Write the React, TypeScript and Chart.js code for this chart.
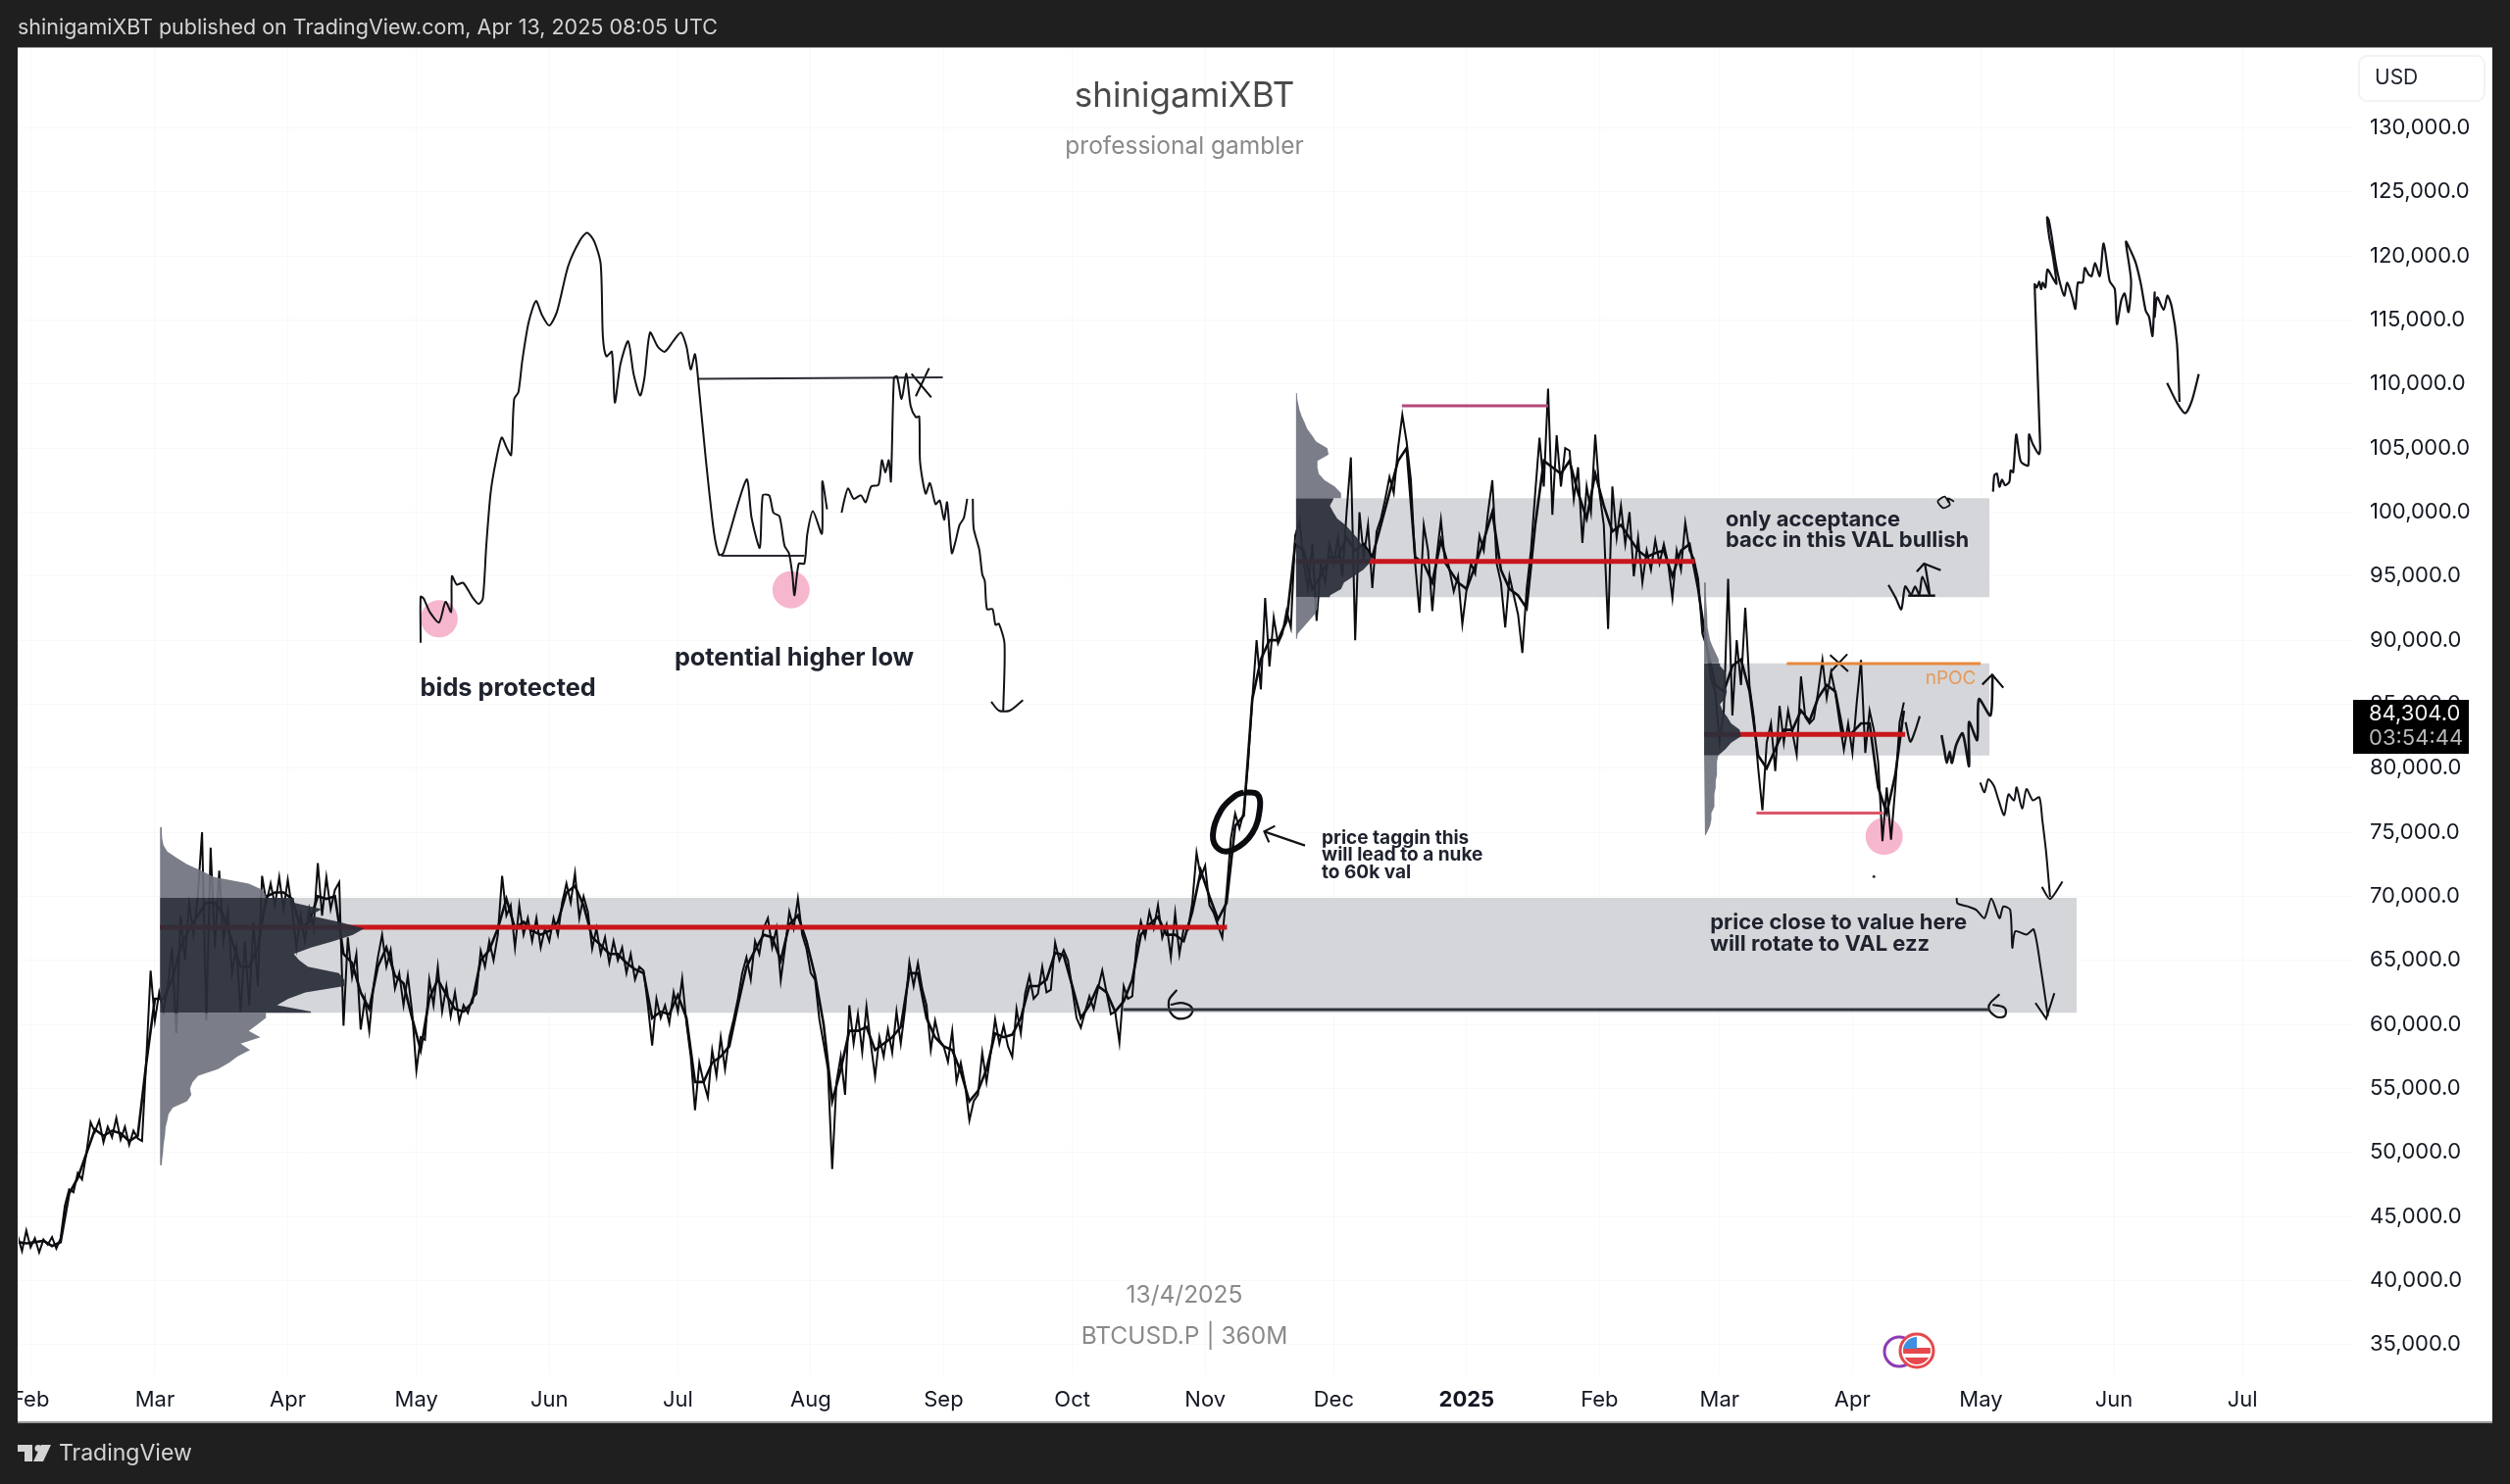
import { useEffect, useRef } from "react";
import { Chart, registerables } from "chart.js";

Chart.register(...registerables);

type Pt = number[];

const UI_FONT = "Inter, 'Noto Sans', sans-serif";

// time axis: days since 1 Feb 2024
const monthLabels = ["Feb", "Mar", "Apr", "May", "Jun", "Jul", "Aug", "Sep", "Oct", "Nov", "Dec", "2025", "Feb", "Mar", "Apr", "May", "Jun", "Jul"];
const monthDays = [0, 29, 60, 90, 121, 151, 182, 213, 243, 274, 304, 335, 366, 394, 425, 455, 486, 516];
const priceTicks = [35000, 40000, 45000, 50000, 55000, 60000, 65000, 70000, 75000, 80000, 85000, 90000, 95000, 100000, 105000, 110000, 115000, 120000, 125000, 130000];

// price extremes, one value a day, first value is day -3
const priceStart = -3;
const priceValues = [
  43500, 42300, 43900, 42600, 43300, 42200, 43200, 42800, 43400, 42500,
  43300, 45850, 47130, 46900, 48400, 47900, 49900, 52360, 51600, 52500,
  50800, 52000, 51200, 52700, 51000, 52000, 50600, 51700, 51100, 50900,
  57330, 64200, 60300, 62500, 61000, 63000, 66000, 59300, 68500, 65000,
  69500, 67000, 70000, 75000, 60300, 73800, 66000, 72000, 66500, 68800,
  64000, 66000, 61000, 66500, 61500, 68000, 63000, 71600, 69500, 71000,
  69300, 71500, 69000, 71300, 69000, 66000, 68500, 66500, 69000, 67500,
  72600, 68500, 71500, 69000, 70500, 71100, 59900, 66800, 63700, 65500,
  59600, 62000, 59500, 63000, 65200, 67000, 64500, 65800, 62800, 64000,
  61500, 63800, 61000, 56400, 59000, 58800, 63500, 61500, 64500, 61000,
  63000, 60650, 62500, 60200, 61500, 60900, 62000, 62400, 65750, 64500,
  66500, 65000, 67000, 71600, 68500, 69300, 66000, 69300, 67000, 68300,
  66500, 68300, 66000, 67500, 66500, 68300, 67000, 69500, 71000, 69500,
  71800, 68300, 70000, 68800, 65900, 67500, 65500, 66800, 64800, 66500,
  65000, 66000, 64000, 65500, 63500, 64500, 64200, 61500, 58350, 62000,
  60500, 61500, 60100, 62500, 61000, 63580, 60100, 57500, 53300, 57000,
  55500, 54300, 58000, 56000, 59000, 56500, 59000, 60400, 62000, 64000,
  65240, 63500, 66500, 65500, 67500, 68300, 66000, 67500, 63450, 66000,
  68800, 67500, 69830, 67000, 65900, 64000, 63500, 60400, 58500, 56500,
  48700, 55500, 57500, 54500, 61500, 58500, 60800, 57840, 61400, 58500,
  55930, 59000, 57500, 59630, 57800, 61000, 58500, 61200, 64860, 63000,
  64800, 62800, 61500, 58000, 60300, 58800, 58300, 57080, 59500, 55550,
  57000, 55300, 52500, 54000, 54500, 57800, 55500, 57800, 60400, 58500,
  59900, 58300, 57460, 61200, 59300, 62400, 63800, 62000, 62400, 64500,
  62500, 62700, 66390, 65000, 65800, 65000, 62800, 60500, 59750, 61000,
  62200, 61200, 62800, 64220, 62500, 60800, 61000, 58600, 63000, 62000,
  62200, 66260, 68050, 66800, 68800, 67500, 69320, 66770, 67800, 65240,
  68700, 65500, 67500, 67400, 69500, 73400, 71500, 72400, 69300, 68700,
  67700, 66770, 70340, 74500, 76470, 75300, 76600, 80300, 85400, 90000,
  86160, 93300, 87950, 91770, 89740, 90500, 92280, 91000, 98150, 99300,
  96000, 94000, 97500, 91500, 96000, 94500, 97500, 96000, 98000, 95000,
  100000, 104270, 90000, 100000, 96500, 99000, 94070, 98500, 99500, 101000,
  102740, 101500, 105000, 107590, 105500, 102500, 96000, 92150, 99000, 97000,
  92280, 96500, 99400, 96000, 95500, 93800, 95000, 91260, 94000, 96000,
  95200, 98150, 97000, 100000, 102490, 96000, 94500, 91000, 95000, 93500,
  92000, 89000, 94000, 97000, 101500, 105800, 102000, 109630, 99800, 106000,
  102000, 105000, 104800, 101000, 103500, 97600, 102000, 100000, 106050, 101500,
  99000, 90880, 102000, 98000, 100500, 97500, 100000, 95000, 98000, 94500,
  97000, 95500, 97800, 96000, 97500, 96000, 93300, 97000, 95500, 99170,
  97000, 96360, 94800, 90500, 89500, 87000, 86000, 82000, 84500, 94800,
  84120, 90000, 86500, 92540, 86400, 84000, 80040, 76720, 82000, 83500,
  79780, 84880, 82000, 84500, 82800, 81060, 87180, 84000, 83500, 83860,
  86000, 88460, 85500, 87500, 85900, 83600, 81440, 83500, 81200, 85140,
  88460, 81200, 84500, 83000, 80500, 74300, 78500, 74430, 78500, 83600,
  85140,
];

// where the candles sit, one value every two days, first value is day -3
const bodyStep = 2;
const bodyValues = [
  43000, 42900, 43000, 43100, 42700, 43000, 46800, 48000, 49900, 51800,
  51300, 51700, 51500, 50900, 51300, 57000, 62000, 62000, 63500, 66000,
  67500, 68500, 69500, 69500, 68500, 66500, 64500, 64500, 66000, 70000,
  70300, 70300, 69800, 67500, 68000, 70000, 69800, 70000, 65500, 64800,
  62500, 61200, 64500, 66000, 63800, 63200, 60500, 58000, 62000, 63500,
  62300, 61200, 61000, 61700, 65000, 65800, 67500, 69800, 67500, 68000,
  67300, 67000, 67300, 68000, 70300, 70800, 69300, 66800, 66200, 65500,
  65500, 64800, 64300, 64000, 60500, 61000, 60800, 62300, 60500, 55500,
  55500, 57000, 57500, 58300, 61500, 64500, 65800, 67000, 66800, 65000,
  67800, 68500, 66500, 63800, 60000, 54000, 56500, 59500, 59500, 59800,
  58000, 58500, 59000, 59800, 64000, 64000, 60500, 59000, 58300, 58000,
  56300, 54000, 54800, 56500, 59300, 59000, 59200, 60500, 63000, 63000,
  63500, 65600, 65400, 63000, 60500, 61500, 63000, 62500, 61000, 61800,
  63500, 67000, 67800, 68400, 67000, 67000, 66500, 68800, 72000, 70000,
  68200, 69500, 75500, 76300, 85400, 88500, 90000, 90000, 91500, 97500,
  97000, 94000, 95000, 96500, 96500, 98000, 97000, 97500, 96500, 99000,
  101500, 104000, 105000, 96500, 96000, 94500, 97800, 95500, 94500, 94000,
  95800, 97800, 100000, 95500, 94000, 93500, 92500, 99000, 104000, 103500,
  103000, 104000, 101500, 99500, 103000, 100500, 98500, 99000, 98000, 97000,
  96500, 96800, 97000, 95000, 97000, 97500, 94000, 89500, 86500, 86000,
  88000, 88500, 86000, 81000, 80000, 81500, 83000, 83000, 84500, 83700,
  85500, 86500, 86000, 82500, 82800, 83500, 83500, 78500, 76500, 79500,
  84500,
];

// value areas and their points of control
const bandStart = [30.2, 295.2, 390.4];
const bandEnd = [477.3, 457, 457];
const bandHigh = [69886, 101085, 88200];
const bandLow = [60900, 93355, 81000];
const pocPrice = [67590, 96160, 82640];
const pocEnd = [279.1, 388.2, 437.3];

// volume profiles: row price and width in days
const profile1Prices = [75400, 75000, 74500, 74000, 73500, 73000, 72500, 72000, 71500, 71000, 70500, 70000, 69500, 69000, 68500, 68000, 67500, 67000, 66500, 66000, 65500, 65000, 64500, 64000, 63500, 63000, 62500, 62000, 61500, 61000, 60500, 60000, 59500, 59000, 58500, 58000, 57500, 57000, 56500, 56000, 55500, 55000, 54500, 54000, 53500, 53000, 52500, 52000, 51500, 51000, 50500, 50000, 49500, 49000];
const profile1Widths = [0.4, 0.4, 0.5, 0.8, 1.7, 3.9, 6.3, 9.6, 12.6, 20.7, 24, 24.7, 31.2, 37.8, 34.9, 41.7, 47.6, 45, 40.4, 35.2, 31.2, 32.5, 34.5, 41.7, 43, 43, 33.9, 29.9, 27.3, 35.2, 24.7, 22.7, 20.7, 23.4, 18.8, 21, 18.1, 16.1, 13.5, 8.9, 7.6, 7, 7.3, 6.3, 3, 2, 1.7, 1.3, 1.2, 1, 0.8, 0.7, 0.5, 0.4];
const profile2Prices = [109300, 108800, 108500, 108000, 107500, 107000, 106500, 106000, 105500, 105000, 104500, 104000, 103500, 103000, 102500, 102000, 101500, 101000, 100500, 100000, 99500, 99000, 98500, 98000, 97500, 97000, 96500, 96000, 95500, 95000, 94500, 94000, 93500, 93000, 92500, 92000, 91500, 91000, 90500, 90100];
const profile2Widths = [0.2, 0.3, 0.5, 0.8, 1.3, 2, 2.6, 3.7, 4.7, 7.3, 7.6, 5, 5, 5.3, 6.6, 9, 10.5, 8.7, 7.9, 8.7, 9.6, 11.5, 12.9, 14.2, 15.2, 16.5, 17.5, 17.1, 15.7, 13.5, 11.2, 10.5, 7.9, 5, 5, 4.3, 3, 1.7, 0.4, 0.2];
const profile3Prices = [94500, 94000, 93000, 92000, 91000, 90000, 89500, 89000, 88500, 88000, 87500, 87000, 86500, 86000, 85500, 85000, 84500, 84000, 83500, 83000, 82500, 82000, 81500, 81000, 80500, 80000, 79500, 79000, 78500, 78000, 77500, 77000, 76500, 76000, 75500, 75000, 74700];
const profile3Widths = [0.4, 0.4, 0.5, 0.7, 0.8, 1.4, 2, 2.7, 3.4, 3.7, 5, 5.1, 5, 5.3, 5, 3.7, 4.3, 5.4, 6.3, 8.3, 8.6, 6.3, 5, 3.3, 3, 3, 3, 2.7, 2.7, 2.4, 2.4, 2.4, 1.7, 1.7, 1.4, 0.7, 0.2];

// hand drawn strokes, [day, price]
const leftPathA: Pt[] = [[91, 89800], [91, 93400], [91.7, 93250], [93.2, 92160], [95.3, 91400], [96.8, 93000], [98.1, 92200], [98.3, 95000], [99.4, 94340], [100.9, 94480], [103, 93390], [104.5, 92840], [105.5, 93250], [106.3, 97350], [107.3, 101450], [108.5, 103910], [109.9, 105820], [111.1, 105000], [112.1, 104450], [112.8, 108830], [113.8, 109380], [114.7, 111830], [116.2, 114840], [117.9, 116480], [119.3, 115390], [121, 114570], [122.8, 115660], [125.4, 119210], [128, 121130], [129.8, 121810], [131.5, 121130], [133, 119350], [133.5, 113750], [134.3, 112170], [135.6, 112520], [136.3, 108560], [137.6, 111560], [139.4, 113340], [140.7, 110740], [142.2, 109100], [143.2, 110470], [144.5, 114020], [146.3, 112930], [147.9, 112520], [149.9, 113340], [151.7, 114020], [153, 112930], [154, 111150], [155, 112330], [156, 109380], [157.5, 104180], [159.4, 98450], [160.6, 96670], [161.6, 96800], [167, 102540], [168.2, 99540], [170.1, 97220], [170.8, 101310], [172.3, 101310], [173.3, 99950], [174.7, 99670], [175.9, 97350], [176.9, 96800], [177.7, 95160], [178.2, 93520], [179.2, 95980], [180.5, 95980], [181.2, 98310], [182.5, 100080], [184.6, 98310], [184.7, 102400], [185.8, 100220]];
const leftPathB: Pt[] = [[189.2, 99950], [189.7, 100770], [190.7, 101860], [192, 101040], [193.7, 101310], [194.8, 100770], [196.1, 102000], [197.8, 102130], [198.6, 104050], [199.4, 103090], [200.2, 104050], [200.7, 102400], [201.4, 110470], [202.1, 110610], [203.2, 108830], [204.3, 110800], [205.3, 108280], [206.5, 107410], [207.3, 107460], [207.5, 103910], [208.8, 101450], [209.8, 102270], [211.1, 100630], [212.1, 100900], [213.1, 99400], [213.8, 100770], [214.9, 96800], [215.7, 97620], [216.7, 98990], [217.7, 99540], [218.5, 101040]];
const leftPathC: Pt[] = [[219.8, 101040], [220, 98720], [221.3, 97080], [222, 95160], [222.6, 94620], [223.1, 92430], [224.4, 92430], [225.1, 91200], [225.9, 91280], [227.2, 89700], [226.9, 84500]];
const leftArrow: Pt[] = [[224.1, 85190], [225.9, 84500], [228.4, 84500], [231.5, 85330]];
const leftTopLine: Pt[] = [[155.5, 110410], [212.8, 110520]];
const leftLowLine: Pt[] = [[161.1, 96590], [180.5, 96590]];
const leftCrossA: Pt[] = [[205.5, 110800], [210.1, 108970]];
const leftCrossB: Pt[] = [[209.6, 111240], [206.5, 109050]];

const topRightPath: Pt[] = [[457.8, 101600], [458.1, 102870], [458.7, 103000], [459.3, 101980], [459.9, 102540], [460.6, 102100], [461.6, 102360], [461.9, 103250], [462.5, 103120], [463.2, 106060], [463.9, 104530], [464.4, 103890], [466, 103640], [466.2, 106060], [467.1, 105290], [468.5, 104530], [468.8, 105040], [467.5, 117790], [468, 117540], [468.6, 117990], [469, 117410], [469.4, 117920], [470, 117540], [470.5, 118940], [471.7, 118300], [472.6, 117840], [471.7, 120090], [470.9, 121490], [470.4, 123020], [470.8, 122800], [471.5, 121490], [472.3, 119700], [473.2, 118180], [474.4, 116900], [475.1, 117920], [476.3, 116770], [477, 115880], [477.6, 117920], [478.7, 117920], [479.2, 119070], [480.1, 118560], [480.8, 118430], [481.6, 119450], [482.7, 118430], [483.6, 120980], [485, 118050], [486.2, 117410], [486.7, 114680], [487.7, 116520], [488.5, 117080], [489.4, 115620], [490, 118050], [488.8, 121110], [490, 120340], [491.1, 119450], [492.3, 117790], [493.4, 115750], [494.2, 115240], [495, 113760], [495.5, 117150], [495.5, 115240], [496.1, 116770], [497.6, 115800], [498.5, 116900], [499.5, 116010], [500.7, 113200], [501.3, 108610]];
const topRightArrow: Pt[] = [[498.4, 110090], [500.6, 108610], [502.6, 107720], [504.1, 108610], [505.8, 110780]];
const smallLoop: Pt[] = [[447.5, 100750], [446.5, 101210], [444.9, 100830], [446.2, 100320], [447.7, 100570], [447.3, 101080], [448.7, 100830]];

const valSquiggle: Pt[] = [[433.4, 94320], [435.1, 93300], [436.4, 92410], [437.3, 94200], [438.7, 93560], [439.6, 94200], [440.6, 93560], [441.3, 94960], [443, 93560], [441.9, 95980]];
const valHead: Pt[] = [[440, 95350], [441.7, 95980], [445.6, 95470]];
const valBase: Pt[] = [[438, 93480], [444.3, 93480]];

const afterPriceA: Pt[] = [[437.4, 83610], [438.5, 82080], [439.6, 82900], [440.7, 84070]];
const afterPriceB: Pt[] = [[445.8, 82590], [446.5, 81310], [447, 80420], [447.7, 81310], [448.2, 80420], [449.2, 81820], [450.7, 82720], [452.2, 80160], [452.2, 83610], [454.1, 82200], [454.5, 85400], [457.2, 84120], [457.7, 87310]];
const afterPriceHead: Pt[] = [[455.3, 86540], [457.6, 87310], [460.2, 86290]];

const dropPathA: Pt[] = [[454.8, 78890], [455.8, 78120], [456.7, 79140], [458, 78630], [459, 77610], [460.4, 76340], [461.4, 77960], [462.7, 77490], [463.3, 78510], [464.6, 76850], [465.6, 78380], [467.1, 77490], [468.6, 77740], [469.3, 75960], [470.2, 73400], [471.1, 69960]];
const dropHeadA: Pt[] = [[469.2, 70730], [471.1, 69790], [474, 71160]];
const dropPathB: Pt[] = [[449.3, 69880], [449.5, 69450], [452, 69200], [453.9, 68940], [455.8, 68300], [457.4, 69830], [459.3, 68300], [460.2, 69200], [461.8, 68940], [462.3, 65990], [463, 67280], [465.6, 67020], [467.3, 67410], [468.9, 64480], [470.6, 60650]];
const dropHeadB: Pt[] = [[467.7, 61670], [470.2, 60450], [472.1, 62440]];

const valLine: Pt[] = [[254.9, 61160], [457, 61160]];
const sixLeft: Pt[] = [[267.4, 62690], [265.5, 61800], [266.6, 60650], [269.7, 60520], [271.1, 61160], [268.9, 61670], [265.9, 61540]];
const sixRight: Pt[] = [[459.3, 62360], [456.8, 61420], [458.3, 60650], [460.5, 60650], [460.5, 61290], [457.7, 61540]];
const tagEllipse: Pt[] = [[283, 78120], [286.1, 77990], [286.8, 76980], [285, 74940], [280.7, 73660], [277.3, 73660], [275.8, 74810], [277.7, 76720], [281.1, 77870], [283, 78120]];
const tagArrow: Pt[] = [[297.3, 73970], [287.8, 75060]];
const tagArrowHead: Pt[] = [[290.3, 75500], [287.8, 75060], [288.9, 74220]];

const purpleTop: Pt[] = [[319.9, 108300], [354, 108300]];
const redLow: Pt[] = [[402.6, 76500], [432.1, 76500]];
const npocLine: Pt[] = [[409.7, 88175], [454.9, 88175]];
const npocCrossA: Pt[] = [[419.8, 88840], [424, 87560]];
const npocCrossB: Pt[] = [[423.8, 88915], [420, 87560]];

const pinkSpots: Pt[] = [[95.3, 91670], [177.4, 93940], [432.4, 74680]];
const strayDot: Pt[] = [[430, 71540]];

// text notes on the chart
const largeNoteTexts = ["bids protected", "potential higher low"];
const largeNoteDays = [90.9, 150.2];
const largeNotePrices = [86260, 88640];
const noteTexts = ["only acceptance", "bacc in this VAL bullish", "price close to value here", "will rotate to VAL ezz"];
const noteDays = [395.4, 395.4, 391.8, 391.8];
const notePrices = [99430, 97820, 67920, 66260];
const smallNoteTexts = ["price taggin this", "will lead to a nuke", "to 60k val"];
const smallNotePrices = [74553, 73200, 71820];
const smallNoteDay = 301.2;
const npocLabel = { text: "nPOC", day: 442, price: 87030 };

const asPoints = (rows: Pt[]) => rows.map(([x, y]) => ({ x, y }));

// outline of the profile rows that fall between two prices
const profileShape = (prices: number[], widths: number[], base: number, hi: number, lo: number) => {
  const rows = prices.map((p, i) => ({ y: p, w: widths[i] })).filter((r) => r.y <= hi && r.y >= lo);
  const top = Math.min(hi, prices[0]);
  const bottom = Math.max(lo, prices[prices.length - 1]);
  return [
    { x: base, y: top },
    { x: base + rows[0].w, y: top },
    ...rows.map((r) => ({ x: base + r.w, y: r.y })),
    { x: base + rows[rows.length - 1].w, y: bottom },
    { x: base, y: bottom },
  ];
};

const stroke = (rows: Pt[], width = 2, color = "#111318", tension = 0.25, order = 3) => ({
  type: "line" as const,
  data: asPoints(rows),
  borderColor: color,
  borderWidth: width,
  tension,
  pointRadius: 0,
  order,
});

const chrome = {
  id: "chrome",
  beforeDraw(chart: any) {
    const { ctx, width, height } = chart;
    ctx.save();
    ctx.fillStyle = "#1f1f1f";
    ctx.fillRect(0, 0, width, height);
    ctx.fillStyle = "#ffffff";
    ctx.fillRect(18, 48, 2524, 1402);
    ctx.restore();
  },
  afterDatasetsDraw(chart: any) {
    const { ctx, scales } = chart;
    const { x, y } = scales;
    ctx.save();
    ctx.textBaseline = "middle";
    ctx.textAlign = "left";
    ctx.fillStyle = "#1e222d";
    ctx.font = `700 25.3px ${UI_FONT}`;
    largeNoteTexts.forEach((t, i) => ctx.fillText(t, x.getPixelForValue(largeNoteDays[i]), y.getPixelForValue(largeNotePrices[i])));
    ctx.font = `700 22px ${UI_FONT}`;
    noteTexts.forEach((t, i) => ctx.fillText(t, x.getPixelForValue(noteDays[i]), y.getPixelForValue(notePrices[i])));
    ctx.font = `700 19px ${UI_FONT}`;
    smallNoteTexts.forEach((t, i) => ctx.fillText(t, x.getPixelForValue(smallNoteDay), y.getPixelForValue(smallNotePrices[i])));
    ctx.fillStyle = "#e39a5c";
    ctx.font = `400 19px ${UI_FONT}`;
    ctx.fillText(npocLabel.text, x.getPixelForValue(npocLabel.day), y.getPixelForValue(npocLabel.price));
    ctx.restore();
  },
  afterDraw(chart: any) {
    const { ctx } = chart;
    ctx.save();
    // window frame over the clipped first month label
    ctx.fillStyle = "#1f1f1f";
    ctx.fillRect(0, 48, 18, 1402);
    ctx.fillStyle = "#9a9a9a";
    ctx.fillRect(18, 48, 2524, 1);
    ctx.fillRect(18, 1450, 2524, 2);

    ctx.textBaseline = "middle";
    ctx.textAlign = "left";
    ctx.fillStyle = "#d4d4d4";
    ctx.font = `400 21.5px ${UI_FONT}`;
    ctx.fillText("shinigamiXBT published on TradingView.com, Apr 13, 2025 08:05 UTC", 18, 29);

    ctx.font = `400 23px ${UI_FONT}`;
    ctx.fillText("TradingView", 60, 1483);
    ctx.fillStyle = "#d4d4d4";
    ctx.fillRect(18, 1474, 15, 7);
    ctx.fillRect(25, 1474, 8, 17);
    ctx.beginPath();
    ctx.arc(39, 1477.5, 3.5, 0, Math.PI * 2);
    ctx.fill();
    ctx.beginPath();
    ctx.moveTo(42, 1474);
    ctx.lineTo(52, 1474);
    ctx.lineTo(44, 1491);
    ctx.lineTo(34, 1491);
    ctx.fill();

    // centred watermark
    ctx.textAlign = "center";
    ctx.fillStyle = "#4a4a4a";
    ctx.font = `400 35px ${UI_FONT}`;
    ctx.fillText("shinigamiXBT", 1208, 98);
    ctx.fillStyle = "#8a8a8a";
    ctx.font = `400 24.5px ${UI_FONT}`;
    ctx.fillText("professional gambler", 1208, 149.5);
    ctx.fillText("13/4/2025", 1208, 1321.5);
    ctx.fillText("BTCUSD.P | 360M", 1208, 1363.5);

    // currency box
    ctx.textAlign = "left";
    ctx.strokeStyle = "#f3f3f3";
    ctx.lineWidth = 2;
    ctx.fillStyle = "#ffffff";
    ctx.beginPath();
    ctx.roundRect(2406, 57, 128, 46, 8);
    ctx.fill();
    ctx.stroke();
    ctx.fillStyle = "#1e222d";
    ctx.font = `400 21px ${UI_FONT}`;
    ctx.fillText("USD", 2422, 80);

    // last price tag
    ctx.fillStyle = "#000000";
    ctx.fillRect(2400, 714, 118, 55);
    ctx.fillStyle = "#f0f0f0";
    ctx.font = `400 22px ${UI_FONT}`;
    ctx.fillText("84,304.0", 2416, 728);
    ctx.fillStyle = "#b8b8b8";
    ctx.fillText("03:54:44", 2416, 753);

    // flag badge
    ctx.lineWidth = 3;
    ctx.strokeStyle = "#8e3bb5";
    ctx.beginPath();
    ctx.arc(1937, 1379, 15, 0, Math.PI * 2);
    ctx.stroke();
    ctx.fillStyle = "#ffffff";
    ctx.beginPath();
    ctx.arc(1955, 1378, 18, 0, Math.PI * 2);
    ctx.fill();
    ctx.save();
    ctx.beginPath();
    ctx.arc(1955, 1378, 14, 0, Math.PI * 2);
    ctx.clip();
    ctx.fillStyle = "#e5484d";
    ctx.fillRect(1941, 1375, 28, 6);
    ctx.fillRect(1941, 1385, 28, 8);
    ctx.fillStyle = "#3f8fe0";
    ctx.fillRect(1941, 1364, 14, 12);
    ctx.restore();
    ctx.strokeStyle = "#e5484d";
    ctx.beginPath();
    ctx.arc(1955, 1378, 17, 0, Math.PI * 2);
    ctx.stroke();
    ctx.restore();
  },
};

const BLACK = "#0b0c10";
const PROFILE_OUT = "rgba(112,115,126,0.92)";
const PROFILE_IN = "rgba(42,46,57,0.93)";

const profiles = [
  { prices: profile1Prices, widths: profile1Widths },
  { prices: profile2Prices, widths: profile2Widths },
  { prices: profile3Prices, widths: profile3Widths },
];

export default function App() {
  const canvasRef = useRef<HTMLCanvasElement | null>(null);

  useEffect(() => {
    if (!canvasRef.current) return;

    const bands = bandStart.map((start, i) => ({
      type: "line" as const,
      data: [{ x: start, y: bandHigh[i] }, { x: bandEnd[i], y: bandHigh[i] }],
      borderWidth: 0,
      pointRadius: 0,
      backgroundColor: "#d5d6d9",
      fill: { value: bandLow[i] },
      order: 9,
    }));
    const pocs = bandStart.map((start, i) => stroke([[start, pocPrice[i]], [pocEnd[i], pocPrice[i]]], 5, "#c9161c", 0, 6));
    const profileSets = profiles.flatMap((p, i) =>
      [
        { hi: Infinity, lo: bandHigh[i], color: PROFILE_OUT },
        { hi: bandHigh[i], lo: bandLow[i], color: PROFILE_IN },
        { hi: bandLow[i], lo: -Infinity, color: PROFILE_OUT },
      ].map((part) => ({
        type: "line" as const,
        data: profileShape(p.prices, p.widths, bandStart[i], part.hi, part.lo),
        borderWidth: 0,
        backgroundColor: part.color,
        fill: "shape",
        pointRadius: 0,
        order: 5,
      }))
    );

    const chart = new Chart(canvasRef.current, {
      type: "line",
      plugins: [chrome],
      data: {
        datasets: [
          ...bands,
          {
            type: "line" as const,
            data: asPoints(pinkSpots),
            showLine: false,
            pointRadius: 19,
            pointBorderWidth: 0,
            pointBackgroundColor: "rgba(240,130,170,0.58)",
            order: 8,
          },
          {
            type: "line" as const,
            data: priceValues.map((y, i) => ({ x: priceStart + i, y })),
            borderColor: BLACK,
            borderWidth: 2,
            pointRadius: 0,
            order: 7,
          },
          {
            type: "line" as const,
            data: bodyValues.map((y, i) => ({ x: priceStart + i * bodyStep, y })),
            borderColor: BLACK,
            borderWidth: 2.6,
            pointRadius: 0,
            order: 7,
          },
          ...pocs,
          ...profileSets,
          stroke(leftPathA),
          stroke(leftPathB),
          stroke(leftPathC),
          stroke(leftArrow),
          stroke(leftTopLine, 2, "#2a2c33", 0),
          stroke(leftLowLine, 2, "#2a2c33", 0),
          stroke(leftCrossA, 2, BLACK, 0),
          stroke(leftCrossB, 2, BLACK, 0),
          stroke(topRightPath, 2.2),
          stroke(topRightArrow, 2.2),
          stroke(smallLoop, 1.8),
          stroke(valSquiggle, 2.2),
          stroke(valHead, 2.2, BLACK, 0),
          stroke(valBase, 2.4, BLACK, 0),
          stroke(afterPriceA, 2.2),
          stroke(afterPriceB, 2.6),
          stroke(afterPriceHead, 2.2, BLACK, 0),
          stroke(dropPathA, 2),
          stroke(dropHeadA, 2),
          stroke(dropPathB, 2),
          stroke(dropHeadB, 2, BLACK, 0),
          stroke(valLine, 3, "#30333b", 0),
          stroke(sixLeft, 2.2, "#111318", 0.4),
          stroke(sixRight, 2.2, "#111318", 0.4),
          stroke(tagEllipse, 6, BLACK, 0.4),
          stroke(tagArrow, 2.2, "#111318", 0),
          stroke(tagArrowHead, 2.2, "#111318", 0),
          stroke(purpleTop, 3, "#b2487a", 0),
          stroke(redLow, 3, "#dc5669", 0),
          stroke(npocLine, 3, "#e68a3e", 0),
          stroke(npocCrossA, 2, BLACK, 0),
          stroke(npocCrossB, 2, BLACK, 0),
          {
            type: "line" as const,
            data: asPoints(strayDot),
            showLine: false,
            pointRadius: 1.5,
            pointBackgroundColor: "#333333",
            pointBorderWidth: 0,
            order: 3,
          },
        ],
      },
      options: {
        animation: false,
        responsive: false,
        devicePixelRatio: 1,
        events: [],
        layout: { padding: { left: 18, top: 48, right: 18, bottom: 64 } },
        plugins: { legend: { display: false }, tooltip: { enabled: false } },
        scales: {
          x: {
            type: "linear",
            min: -2.79,
            max: 541.8,
            border: { display: false },
            grid: { color: "rgba(0,0,0,0.025)", drawTicks: false },
            afterBuildTicks: (scale: any) => {
              scale.ticks = monthDays.map((value) => ({ value }));
            },
            afterFit: (scale: any) => {
              scale.height = 48;
              scale.paddingLeft = 0;
              scale.paddingRight = 0;
            },
            ticks: {
              autoSkip: false,
              maxRotation: 0,
              padding: 13,
              color: "#131722",
              font: (c: any) => ({
                family: UI_FONT,
                size: 22,
                weight: c.tick && c.tick.value === 335 ? "700" : "400",
              }),
              callback: (value: any) => monthLabels[monthDays.indexOf(value)],
            },
          },
          y: {
            type: "linear",
            position: "right",
            min: 32687,
            max: 136314,
            border: { display: false },
            grid: { color: "rgba(0,0,0,0.025)", drawTicks: false },
            afterBuildTicks: (scale: any) => {
              scale.ticks = priceTicks.map((value) => ({ value }));
            },
            afterFit: (scale: any) => {
              scale.width = 142;
              scale.paddingTop = 0;
              scale.paddingBottom = 0;
            },
            ticks: {
              padding: 17,
              crossAlign: "near",
              color: "#131722",
              font: { family: UI_FONT, size: 22 },
              callback: (value: any) => `${Number(value).toLocaleString("en-US")}.0`,
            },
          },
        },
      },
    } as any);

    return () => chart.destroy();
  }, []);

  return (
    <div style={{ position: "fixed", inset: 0, background: "#1f1f1f" }}>
      <canvas ref={canvasRef} width={2560} height={1514} style={{ display: "block" }} />
    </div>
  );
}
